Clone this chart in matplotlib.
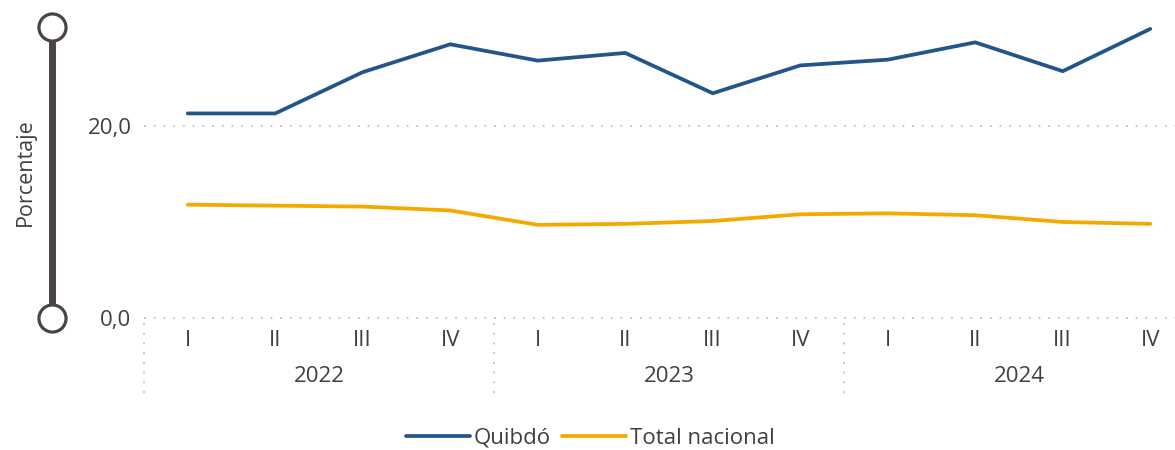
import matplotlib
matplotlib.use('Agg')
import matplotlib.pyplot as plt
import matplotlib.transforms as mtransforms
from matplotlib.lines import Line2D

plt.rcParams['font.family'] = ['Open Sans', 'DejaVu Sans']

# Datos trimestrales
anios = ['2022', '2023', '2024']
trimestres = ['I', 'II', 'III', 'IV']
quibdo = [21.3, 21.3, 25.6, 28.5, 26.8, 27.6, 23.4, 26.3, 26.9, 28.7, 25.7, 30.1]
nacional = [11.8, 11.7, 11.6, 11.2, 9.7, 9.8, 10.1, 10.8, 10.9, 10.7, 10.0, 9.8]
yticks = [0, 20]
ytick_labels = ['0,0', '20,0']

COLOR_TXT = '#404040'
COLOR_GRID = '#c8c8c8'
COLOR_SLIDER = '#4a4542'
FS = 16

W, H = 1175, 450
fig = plt.figure(figsize=(W / 100, H / 100), dpi=100)
ax = fig.add_axes([144 / W, (H - 318) / H, 1050 / W, 291 / H])

x = list(range(len(quibdo)))
ax.plot(x, quibdo, color='#22558A', lw=2.7, solid_capstyle='round',
        solid_joinstyle='miter', clip_on=False, label='Quibdó')
ax.plot(x, nacional, color='#F2A900', lw=2.7, solid_capstyle='round',
        solid_joinstyle='miter', clip_on=False, label='Total nacional')

ax.set_xlim(-0.5, len(x) - 0.5)
ax.set_ylim(0, 30.3)
for s in ax.spines.values():
    s.set_visible(False)

# líneas de referencia punteadas
for yv in yticks:
    ax.axhline(yv, color=COLOR_GRID, lw=1.4, ls=(0, (1, 4)), zorder=0, clip_on=False)

ax.set_yticks(yticks)
ax.set_yticklabels(ytick_labels)
ax.tick_params(axis='y', length=0, pad=9, labelsize=FS, labelcolor=COLOR_TXT)
ax.set_xticks([])

# ejes de categorías: trimestre y año
trans = mtransforms.blended_transform_factory(ax.transData, fig.transFigure)
for i, q in enumerate(trimestres * len(anios)):
    ax.text(i, (H - 341) / H, q, transform=trans, ha='center', va='center',
            fontsize=FS, color=COLOR_TXT)
for k, a in enumerate(anios):
    centro = k * 4 + 1.5
    ax.text(centro, (H - 376) / H, a, transform=trans, ha='center', va='center',
            fontsize=FS, color=COLOR_TXT)
    ax.plot([k * 4 - 0.5] * 2, [(H - 323) / H, (H - 396) / H], transform=trans,
            color=COLOR_GRID, lw=1.4, ls=(0, (1, 4)), clip_on=False)

# control deslizante del eje vertical
fig.add_artist(Line2D([52 / W, 52 / W], [(H - 27) / H, (H - 318) / H],
                      color=COLOR_SLIDER, lw=5, zorder=1))
fig.add_artist(Line2D([52 / W, 52 / W], [(H - 27) / H, (H - 318) / H],
                      ls='none', marker='o', ms=19.5, mfc='white',
                      mec=COLOR_SLIDER, mew=2.3, zorder=2))
fig.text(25 / W, (H - 172) / H, 'Porcentaje', rotation=90, ha='center',
         va='center', fontsize=15.5, color=COLOR_TXT)

fig.legend(loc='center', bbox_to_anchor=(590 / W, (H - 438) / H), ncol=2,
           frameon=False, fontsize=FS, handlelength=2.9, handletextpad=0.15,
           columnspacing=0.5, labelcolor=COLOR_TXT)

fig.savefig('out.png', dpi=100, facecolor='white')
